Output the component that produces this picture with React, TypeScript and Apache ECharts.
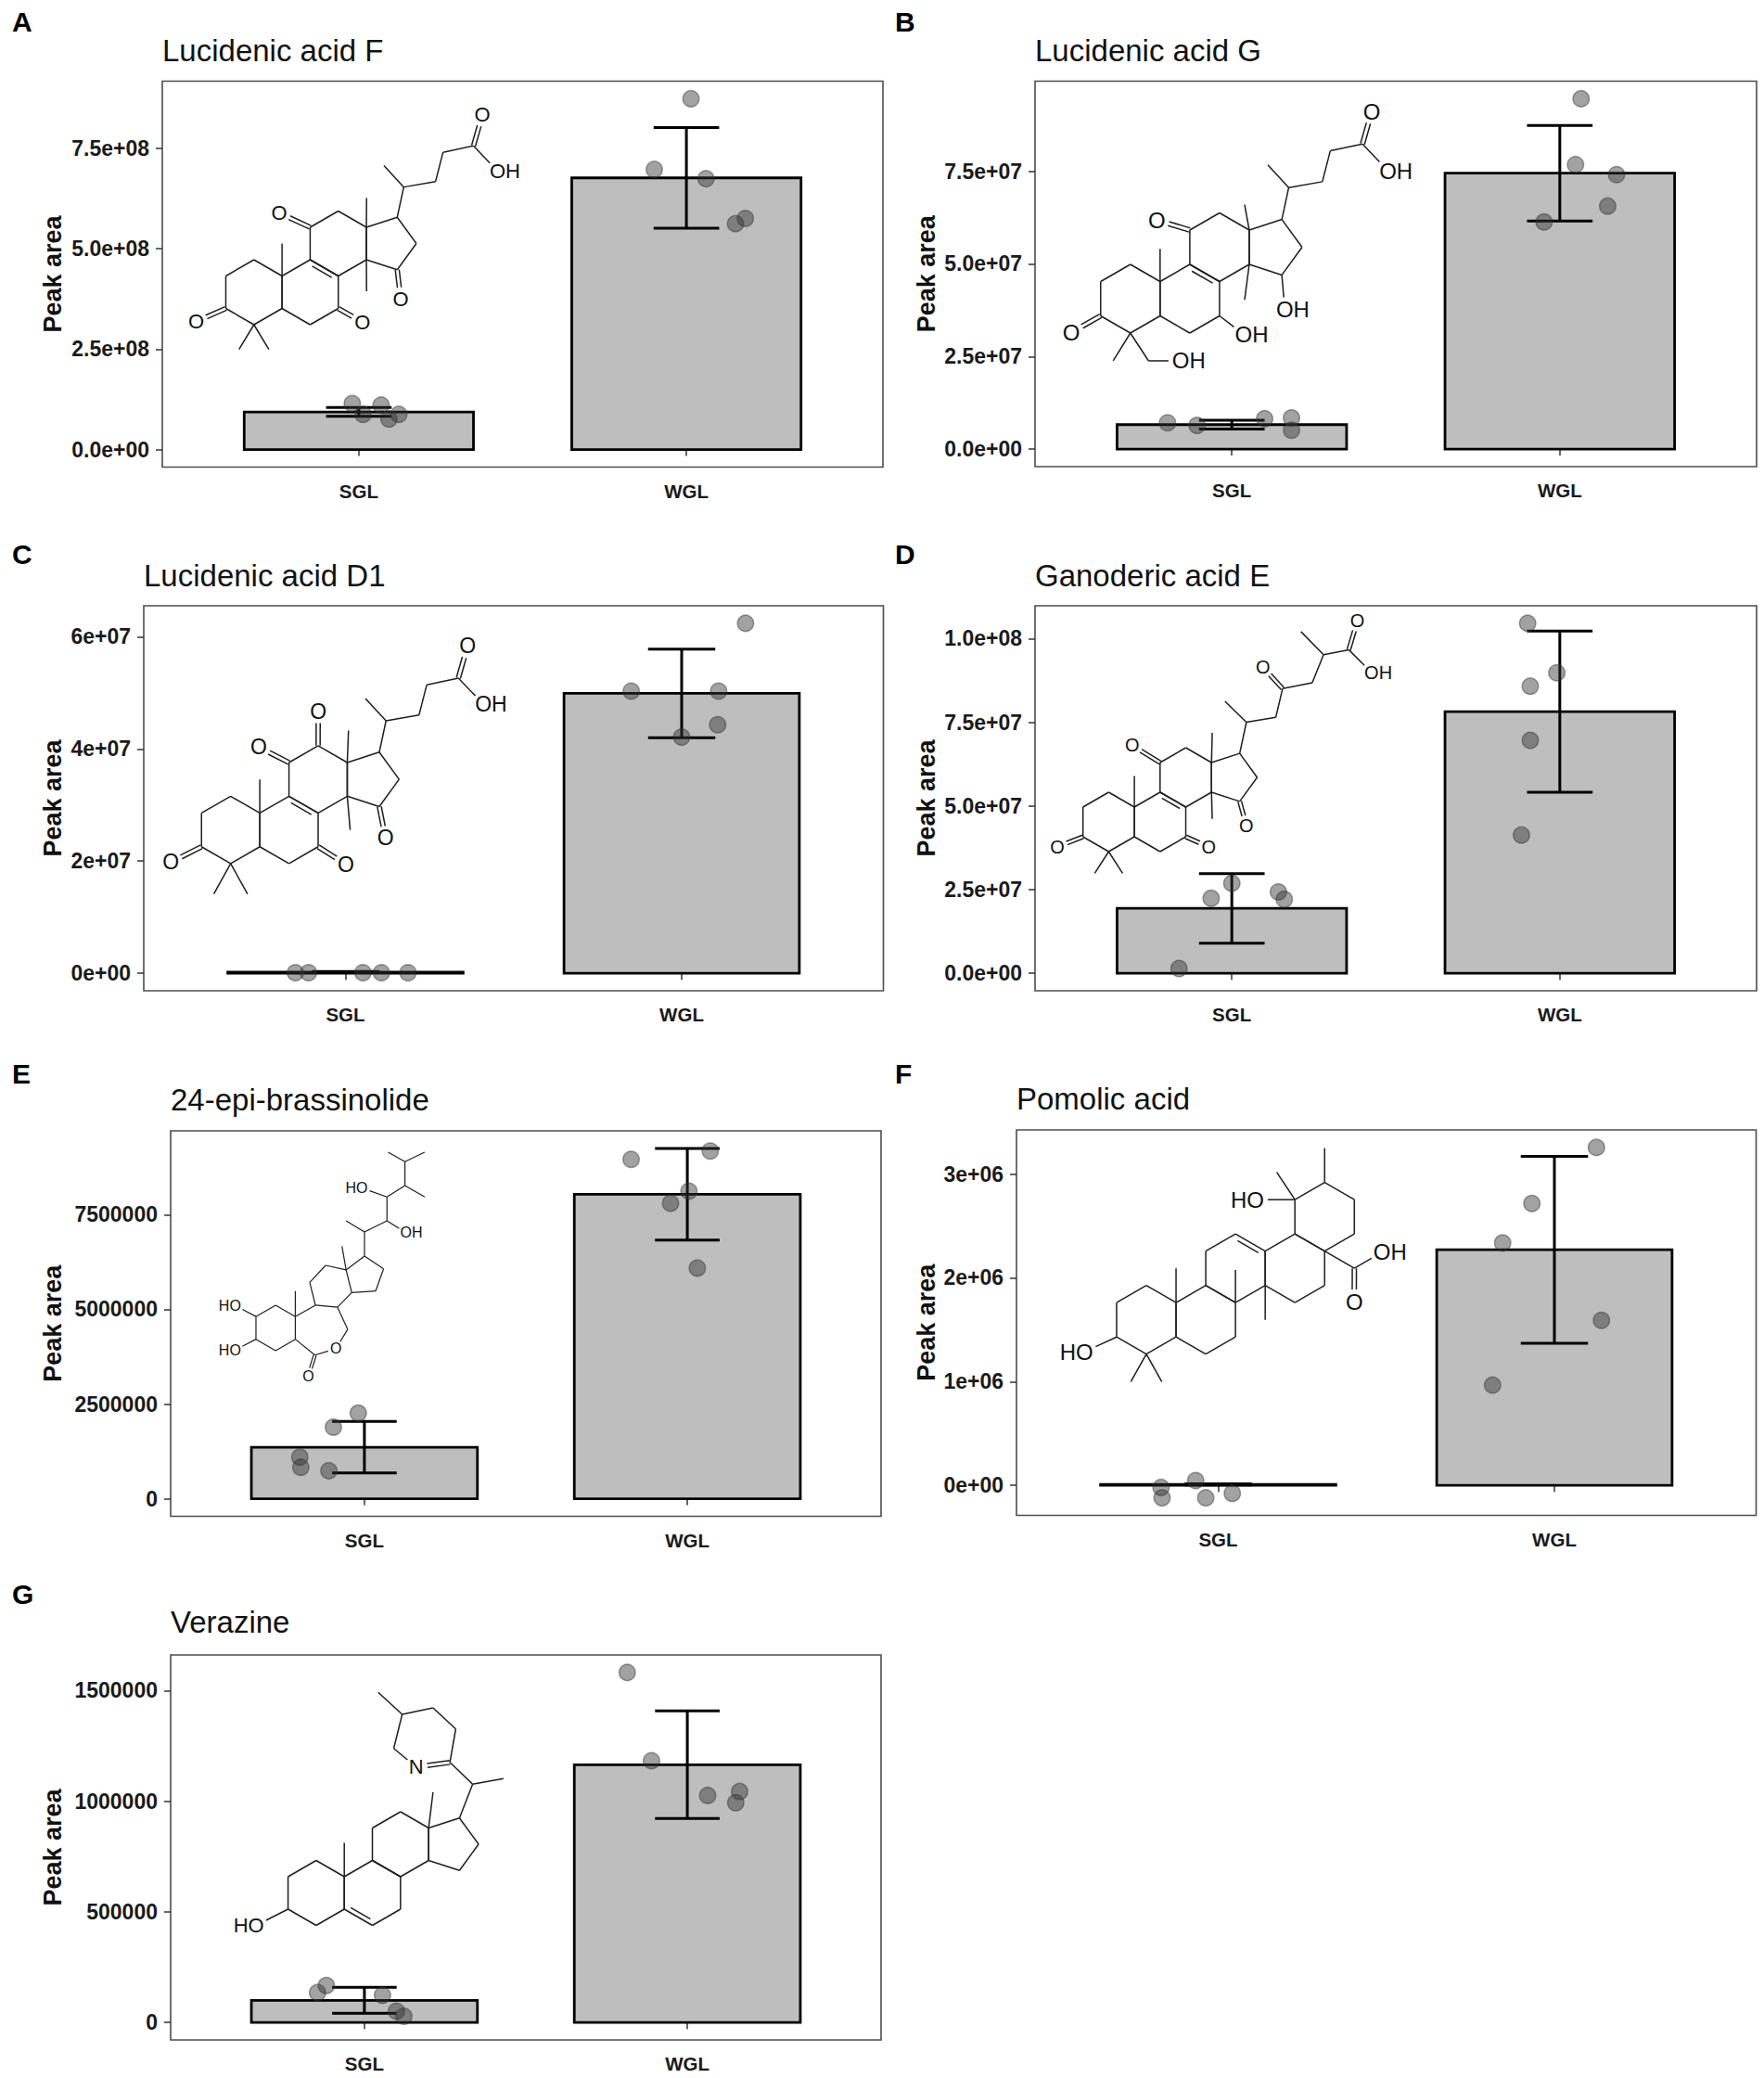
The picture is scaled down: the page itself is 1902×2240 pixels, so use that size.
import React, { useEffect, useRef } from "react";
import * as echarts from "echarts";

const FONT = "'Liberation Sans', Arial, Helvetica, sans-serif";
const W = 1902;
const H = 2240;

// ---------------- data ----------------
const groups = ["SGL", "WGL"];
const compounds = [
  "Lucidenic acid F",
  "Lucidenic acid G",
  "Lucidenic acid D1",
  "Ganoderic acid E",
  "24-epi-brassinolide",
  "Pomolic acid",
  "Verazine",
];
const panelLetters = ["A", "B", "C", "D", "E", "F", "G"];

const tickValues = [
  [0, 2.5e8, 5e8, 7.5e8],
  [0, 2.5e7, 5e7, 7.5e7],
  [0, 2e7, 4e7, 6e7],
  [0, 2.5e7, 5e7, 7.5e7, 1e8],
  [0, 2.5e6, 5e6, 7.5e6],
  [0, 1e6, 2e6, 3e6],
  [0, 5e5, 1e6, 1.5e6],
];
const tickLabels = [
  ["0.0e+00", "2.5e+08", "5.0e+08", "7.5e+08"],
  ["0.0e+00", "2.5e+07", "5.0e+07", "7.5e+07"],
  ["0e+00", "2e+07", "4e+07", "6e+07"],
  ["0.0e+00", "2.5e+07", "5.0e+07", "7.5e+07", "1.0e+08"],
  ["0", "2500000", "5000000", "7500000"],
  ["0e+00", "1e+06", "2e+06", "3e+06"],
  ["0", "500000", "1000000", "1500000"],
];

const meanSGL = [0.935e8, 0.66e7, 0.02e7, 1.94e7, 1.36e6, 0.01e6, 0.1e6];
const sdSGL = [0.11e8, 0.12e7, 0.01e7, 1.04e7, 0.68e6, 0.005e6, 0.059e6];
const meanWGL = [6.76e8, 7.45e7, 4.99e7, 7.82e7, 8.04e6, 2.27e6, 1.165e6];
const sdWGL = [1.25e8, 1.29e7, 0.79e7, 2.41e7, 1.21e6, 0.9e6, 0.243e6];

const ptsSGL = [
  [1.145e8, 0.875e8, 1.105e8, 0.76e8, 0.875e8],
  [0.71e7, 0.64e7, 0.82e7, 0.84e7, 0.51e7],
  [0.01e7, 0.01e7, 0.01e7, 0.01e7, 0.01e7],
  [0.14e7, 2.24e7, 2.69e7, 2.43e7, 2.21e7],
  [2.26e6, 1.89e6, 1.1e6, 0.83e6, 0.74e6],
  [0.046e6, -0.02e6, -0.12e6, -0.12e6, -0.077e6],
  [0.167e6, 0.135e6, 0.123e6, 0.051e6, 0.028e6],
];
const jitSGL = [
  [-0.02, 0.013, 0.068, 0.092, 0.122],
  [-0.196, -0.106, 0.1, 0.182, 0.182],
  [-0.149, -0.11, 0.052, 0.107, 0.186],
  [-0.161, -0.063, 0, 0.142, 0.16],
  [-0.019, -0.096, -0.2, -0.197, -0.11],
  [-0.067, -0.17, -0.167, -0.037, 0.042],
  [-0.118, -0.145, 0.056, 0.099, 0.122],
];
const ptsWGL = [
  [8.73e8, 6.97e8, 6.74e8, 5.62e8, 5.75e8],
  [9.46e7, 7.68e7, 7.41e7, 6.56e7, 6.13e7],
  [6.24e7, 5.03e7, 5.03e7, 4.43e7, 4.21e7],
  [10.46e7, 8.98e7, 8.58e7, 6.96e7, 4.13e7],
  [9.18e6, 8.96e6, 8.12e6, 7.8e6, 6.09e6],
  [3.256e6, 2.716e6, 2.336e6, 1.59e6, 0.966e6],
  [1.582e6, 1.183e6, 1.026e6, 1.044e6, 0.993e6],
];
const jitWGL = [
  [0.014, -0.098, 0.06, 0.15, 0.18],
  [0.065, 0.048, 0.173, 0.146, -0.048],
  [0.19, -0.15, 0.11, 0.107, 0],
  [-0.098, -0.009, -0.09, -0.09, -0.117],
  [0.071, -0.174, 0.005, -0.052, 0.031],
  [0.125, -0.067, -0.154, 0.14, -0.184],
  [-0.186, -0.111, 0.063, 0.162, 0.15],
];

// ---------------- layout ----------------
const boxes = [
  [175, 87.5, 952, 503.5],
  [1116, 87.5, 1894, 503],
  [155, 653, 952.5, 1068],
  [1116, 653, 1894, 1068],
  [184, 1219, 950, 1634.5],
  [1096, 1218, 1893.5, 1633.5],
  [184, 1784, 950, 2199],
];
const letterPos = [
  [13, 23.5],
  [965, 23.5],
  [13, 597.5],
  [965, 597.5],
  [13, 1157],
  [965, 1157],
  [13, 1718],
];
const titleY = [54.5, 54.5, 620.5, 620.5, 1185.5, 1184.5, 1748.5];
const yTitleX = [57, 999, 57, 999, 57, 999, 57];
const molPlace = [
  [273.8, 315, 35],
  [1218.8, 322, 37],
  [248.7, 894.6, 36.3],
  [1195.4, 886, 32],
  [297.2, 1431.4, 24.5],
  [1236, 1422.7, 37],
  [340.9, 2040.5, 35],
];

const BAR_HALF = 0.35;
const CAP_HALF = 0.1;

// ---------------- structure drawings ----------------
type P = [number, number];
type Lab = { at: P; text: string; from: P[]; dbl?: boolean; align?: "c" | "l" | "r" };
type Mol = { bonds: [P, P][]; inner: [P, P, P][]; labels: Lab[] };

const S = Math.sqrt(3) / 2;
const add = (p: P, d: P): P => [p[0] + d[0], p[1] + d[1]];
const hexV = (cx: number, cy: number): P[] => [
  [cx, cy - 1],
  [cx + S, cy - 0.5],
  [cx + S, cy + 0.5],
  [cx, cy + 1],
  [cx - S, cy + 0.5],
  [cx - S, cy - 0.5],
];
const pentV = (ex: number, my: number): P[] => [
  [ex, my - 0.5],
  [ex + 0.951, my - 0.809],
  [ex + 1.539, my],
  [ex + 0.951, my + 0.809],
  [ex, my + 0.5],
];
const ring = (v: P[]): [P, P][] => v.map((p, i) => [p, v[(i + 1) % v.length]] as [P, P]);

function lanoCore() {
  const a: Record<string, P> = {
    c1: [0, -1], c2: [-S, -0.5], c3: [-S, 0.5], c4: [0, 1], c5: [S, 0.5], c10: [S, -0.5],
    c9: [2 * S, -1], c8: [3 * S, -0.5], c7: [3 * S, 0.5], c6: [2 * S, 1],
    c11: [2 * S, -2], c12: [3 * S, -2.5], c13: [4 * S, -2], c14: [4 * S, -1],
    c17: [4 * S + 0.951, -2.309], c16: [4 * S + 1.539, -1.5], c15: [4 * S + 0.951, -0.691],
  };
  const bonds: [P, P][] = [
    ...ring(hexV(0, 0)),
    ...ring(hexV(2 * S, 0)),
    ...ring(hexV(3 * S, -1.5)),
    ...ring(pentV(4 * S, -1.5)),
  ];
  return { a, bonds };
}

function acidChain(c17: P) {
  const c20 = add(c17, [0.2, -0.93]);
  const c21 = add(c20, [-0.61, -0.66]);
  const c22 = add(c20, [0.98, -0.17]);
  const c23 = add(c22, [0.23, -0.9]);
  const c24 = add(c23, [0.94, -0.2]);
  return {
    bonds: [[c17, c20], [c20, c21], [c20, c22], [c22, c23], [c23, c24]] as [P, P][],
    labels: [
      { at: add(c24, [0.27, -0.95]), text: "O", from: [c24], dbl: true },
      { at: add(c24, [0.74, 0.78]), text: "OH", from: [c24], align: "l" },
    ] as Lab[],
  };
}

function molA(): Mol {
  const { a, bonds } = lanoCore();
  bonds.push([a.c10, [S, -1.5]], [a.c13, [3.47, -2.9]], [a.c14, [3.47, -0.03]], [a.c4, [-0.46, 1.76]], [a.c4, [0.46, 1.76]]);
  const ch = acidChain(a.c17);
  return {
    bonds: [...bonds, ...ch.bonds],
    inner: [[a.c9, a.c8, [2 * S, 0]]],
    labels: [
      { at: [-1.78, 0.9], text: "O", from: [a.c3], dbl: true },
      { at: [3.34, 0.92], text: "O", from: [a.c7], dbl: true },
      { at: [0.78, -2.44], text: "O", from: [a.c11], dbl: true },
      { at: [4.52, 0.2], text: "O", from: [a.c15], dbl: true },
      ...ch.labels,
    ],
  };
}

function molB(): Mol {
  const { a, bonds } = lanoCore();
  const ch2: P = [0.53, 1.81];
  bonds.push([a.c10, [S, -1.45]], [a.c13, [3.33, -2.74]], [a.c14, [3.33, 0.03]], [a.c4, [-0.5, 1.81]], [a.c4, ch2]);
  const ch = acidChain(a.c17);
  return {
    bonds: [...bonds, ...ch.bonds],
    inner: [[a.c9, a.c8, [2 * S, 0]]],
    labels: [
      { at: [-1.72, 0.98], text: "O", from: [a.c3], dbl: true },
      { at: [0.77, -2.29], text: "O", from: [a.c11], dbl: true },
      { at: [1.47, 1.81], text: "OH", from: [ch2], align: "l" },
      { at: [3.3, 1.04], text: "OH", from: [a.c7], align: "l" },
      { at: [4.5, 0.32], text: "OH", from: [a.c15], align: "l" },
      ...ch.labels,
    ],
  };
}

function molC(): Mol {
  const { a, bonds } = lanoCore();
  bonds.push([a.c10, [S, -1.5]], [a.c13, [3.5, -2.95]], [a.c14, [3.55, 0]], [a.c4, [-0.5, 1.9]], [a.c4, [0.5, 1.9]]);
  const ch = acidChain(a.c17);
  return {
    bonds: [...bonds, ...ch.bonds],
    inner: [[a.c9, a.c8, [2 * S, 0]]],
    labels: [
      { at: [-1.78, 0.96], text: "O", from: [a.c3], dbl: true },
      { at: [3.42, 1.02], text: "O", from: [a.c7], dbl: true },
      { at: [0.83, -2.46], text: "O", from: [a.c11], dbl: true },
      { at: [2.6, -3.52], text: "O", from: [a.c12], dbl: true },
      { at: [4.6, 0.24], text: "O", from: [a.c15], dbl: true },
      ...ch.labels,
    ],
  };
}

function molD(): Mol {
  const { a, bonds } = lanoCore();
  const c20: P = [4.64, -3.36];
  const c21: P = [3.92, -4.06];
  const c22: P = [5.63, -3.52];
  const c23: P = [5.86, -4.49];
  const c24: P = [6.86, -4.69];
  const c25: P = [7.24, -5.63];
  const c27: P = [6.48, -6.41];
  const c26: P = [8.09, -5.8];
  bonds.push(
    [a.c10, [S, -1.55]], [a.c13, [3.49, -3.0]], [a.c14, [3.49, -0.1]], [a.c4, [-0.47, 1.73]], [a.c4, [0.47, 1.73]],
    [a.c17, c20], [c20, c21], [c20, c22], [c22, c23], [c23, c24], [c24, c25], [c25, c27], [c25, c26],
  );
  return {
    bonds,
    inner: [[a.c9, a.c8, [2 * S, 0]]],
    labels: [
      { at: [-1.73, 0.84], text: "O", from: [a.c3], dbl: true },
      { at: [3.37, 0.84], text: "O", from: [a.c7], dbl: true },
      { at: [0.79, -2.58], text: "O", from: [a.c11], dbl: true },
      { at: [4.64, 0.13], text: "O", from: [a.c15], dbl: true },
      { at: [5.2, -5.21], text: "O", from: [c23], dbl: true },
      { at: [8.38, -6.77], text: "O", from: [c26], dbl: true },
      { at: [8.86, -5.03], text: "OH", from: [c26], align: "l" },
    ],
  };
}

function molE(): Mol {
  const c1: P = [0, -1], c2: P = [-S, -0.5], c3: P = [-S, 0.5], c4: P = [0, 1], c5: P = [S, 0.5], c10: P = [S, -0.5];
  const c6: P = [1.73, 1.2], oR: P = [2.65, 0.91], c7: P = [3.17, 0.07], c8: P = [2.72, -0.91], c9: P = [1.75, -1.0];
  const c11: P = [1.5, -2.0], c12: P = [2.2, -2.75], c13: P = [3.1, -2.55], c14: P = [3.35, -1.55];
  const c17: P = [3.91, -3.16], c16: P = [4.75, -2.6], c15: P = [4.4, -1.62];
  const c20: P = [3.91, -4.22], c21: P = [3.1, -4.71], c22: P = [4.9, -4.71], c23: P = [4.9, -5.76];
  const c24: P = [5.69, -6.26], c28: P = [6.56, -5.76], c25: P = [5.69, -7.31], c26: P = [4.95, -7.73], c27: P = [6.56, -7.73];
  return {
    bonds: [
      ...ring([c1, c10, c5, c4, c3, c2]),
      [c5, c6], [c7, c8], [c8, c9], [c9, c10],
      [c9, c11], [c11, c12], [c12, c13], [c13, c14], [c14, c8],
      [c13, c17], [c17, c16], [c16, c15], [c15, c14],
      [c13, [2.92, -3.59]], [c10, [S, -1.62]],
      [c17, c20], [c20, c21], [c20, c22], [c22, c23], [c23, c24], [c24, c28], [c24, c25], [c25, c26], [c25, c27],
    ],
    inner: [],
    labels: [
      { at: [-1.78, -0.98], text: "HO", from: [c2], align: "r" },
      { at: [-1.78, 0.98], text: "HO", from: [c3], align: "r" },
      { at: oR, text: "O", from: [c6, c7] },
      { at: [1.44, 2.12], text: "O", from: [c6], dbl: true },
      { at: [5.74, -4.18], text: "OH", from: [c22], align: "l" },
      { at: [3.8, -6.15], text: "HO", from: [c23], align: "r" },
    ],
  };
}

function molF(): Mol {
  const c3: P = [-S, 0.5], c4: P = [0, 1], c10: P = [S, -0.5], c8: P = [3 * S, -0.5], c14: P = [4 * S, -1];
  const c12: P = [3 * S, -2.5], c13: P = [4 * S, -2], c17: P = [6 * S, -2], c19: P = [5 * S, -3.5], c20: P = [6 * S, -4];
  const cc: P = [7 * S, -1.5];
  return {
    bonds: [
      ...ring(hexV(0, 0)),
      ...ring(hexV(2 * S, 0)),
      ...ring(hexV(3 * S, -1.5)),
      ...ring(hexV(5 * S, -1.5)),
      ...ring(hexV(6 * S, -3)),
      [c10, [S, -1.5]], [c8, [3 * S, -1.45]], [c14, [4 * S, 0]],
      [c4, [-0.45, 1.8]], [c4, [0.45, 1.8]],
      [c19, [3.8, -4.3]], [c20, [6 * S, -5]],
      [c17, cc],
    ],
    inner: [[c12, c13, [3 * S, -1.5]]],
    labels: [
      { at: [-1.8, 0.93], text: "HO", from: [c3], align: "r" },
      { at: [3.18, -3.5], text: "HO", from: [c19], align: "r" },
      { at: [6.06, -0.53], text: "O", from: [cc], dbl: true },
      { at: [6.87, -1.97], text: "OH", from: [cc], align: "l" },
    ],
  };
}

function molG(): Mol {
  const c3: P = [-S, 0.5], c5: P = [S, 0.5], c6: P = [2 * S, 1], c10: P = [S, -0.5], c13: P = [4 * S, -2];
  const c17: P = [4 * S + 0.951, -2.309];
  const c20: P = [4.82, -3.35], c21: P = [5.77, -3.52], c22: P = [4.12, -4.02], c23: P = [4.3, -5.05];
  const c24: P = [3.6, -5.7], c25: P = [2.65, -5.5], c26: P = [2.39, -4.45], c27: P = [1.91, -6.18];
  const n: P = [3.08, -3.88];
  return {
    bonds: [
      ...ring(hexV(0, 0)),
      ...ring(hexV(2 * S, 0)),
      ...ring(hexV(3 * S, -1.5)),
      ...ring(pentV(4 * S, -1.5)),
      [c10, [S, -1.54]], [c13, [3.6, -3.1]],
      [c17, c20], [c20, c21], [c20, c22], [c22, c23], [c23, c24], [c24, c25], [c25, c26], [c25, c27],
    ],
    inner: [[c5, c6, [2 * S, 0]]],
    labels: [
      { at: [-1.85, 1.0], text: "HO", from: [c3], align: "r" },
      { at: n, text: "N", from: [c26] },
      { at: n, text: "", from: [c22], dbl: true },
    ],
  };
}

const mols = [molA(), molB(), molC(), molD(), molE(), molF(), molG()];

function molElements(m: Mol, ox: number, oy: number, b: number) {
  const els: any[] = [];
  const fs = b < 30 ? 16 : b < 34 ? 20 : Math.round(0.64 * b);
  const lw = b < 30 ? 1.2 : 1.5;
  const X = (p: P) => ox + p[0] * b;
  const Y = (p: P) => oy + p[1] * b;
  const line = (x1: number, y1: number, x2: number, y2: number) =>
    els.push({ type: "line", silent: true, z: 1, shape: { x1, y1, x2, y2 }, style: { stroke: "#1e1e1e", lineWidth: lw } });
  for (const [p, q] of m.bonds) line(X(p), Y(p), X(q), Y(q));
  for (const [p, q, c] of m.inner) {
    const ax = X(p), ay = Y(p), bx = X(q), by = Y(q);
    const dx = bx - ax, dy = by - ay;
    const len = Math.hypot(dx, dy);
    let nx = -dy / len, ny = dx / len;
    const mx = (ax + bx) / 2, my = (ay + by) / 2;
    if ((X(c) - mx) * nx + (Y(c) - my) * ny < 0) { nx = -nx; ny = -ny; }
    const off = 0.14 * b, sh = 0.15;
    line(ax + dx * sh + nx * off, ay + dy * sh + ny * off, bx - dx * sh + nx * off, by - dy * sh + ny * off);
  }
  for (const L of m.labels) {
    const lx = X(L.at), ly = Y(L.at);
    const trim = 0.55 * fs;
    for (const f of L.from) {
      const fx = X(f), fy = Y(f);
      const dx = lx - fx, dy = ly - fy;
      const len = Math.hypot(dx, dy);
      const ex = lx - (dx / len) * trim, ey = ly - (dy / len) * trim;
      if (L.dbl) {
        const o = 0.06 * b;
        const nx = (-dy / len) * o, ny = (dx / len) * o;
        line(fx + nx, fy + ny, ex + nx, ey + ny);
        line(fx - nx, fy - ny, ex - nx, ey - ny);
      } else line(fx, fy, ex, ey);
    }
    if (!L.text) continue;
    const al = L.align || "c";
    const tx = al === "l" ? lx - 0.39 * fs : al === "r" ? lx + 0.39 * fs : lx;
    const align = al === "l" ? "left" : al === "r" ? "right" : "center";
    els.push({
      type: "text",
      silent: true,
      z: 1,
      x: tx,
      y: ly,
      style: {
        text: L.text, fontSize: fs, fontFamily: FONT, fill: "#111",
        align, textAlign: align, verticalAlign: "middle", textVerticalAlign: "middle",
      },
    });
  }
  return els;
}

// ---------------- option ----------------
function yRange(i: number) {
  const vals = [
    0,
    ...ptsSGL[i], ...ptsWGL[i],
    meanSGL[i] + sdSGL[i], meanSGL[i] - sdSGL[i],
    meanWGL[i] + sdWGL[i], meanWGL[i] - sdWGL[i],
  ];
  const lo = Math.min(...vals), hi = Math.max(...vals);
  const pad = 0.05 * (hi - lo);
  return [lo - pad, hi + pad];
}

function buildOption() {
  const grid: any[] = [], xAxis: any[] = [], yAxis: any[] = [], series: any[] = [], graphics: any[] = [];
  for (let i = 0; i < 7; i++) {
    const [l, t, r, bt] = boxes[i];
    grid.push({
      left: l, top: t, width: r - l, height: bt - t,
      show: true, borderColor: "#4d4d4d", borderWidth: 1.6, backgroundColor: "transparent",
      containLabel: false, outerBoundsMode: "none",
    });
    xAxis.push({
      type: "value", gridIndex: i, min: 0.4, max: 2.6,
      splitLine: { show: false },
      axisLine: { show: false },
      axisTick: { show: true, customValues: [1, 2], length: 7, lineStyle: { color: "#333", width: 1.5 } },
      axisLabel: {
        show: true, customValues: [1, 2], margin: 15,
        formatter: (v: number) => groups[Math.round(v) - 1] || "",
        fontFamily: FONT, fontWeight: "bold", fontSize: 20.5, color: "#1a1a1a",
      },
    });
    const [ymin, ymax] = yRange(i);
    const tv = tickValues[i], tl = tickLabels[i];
    yAxis.push({
      type: "value", gridIndex: i, min: ymin, max: ymax,
      splitLine: { show: false },
      axisLine: { show: false },
      axisTick: { show: true, customValues: tv, length: 7, lineStyle: { color: "#333", width: 1.5 } },
      axisLabel: {
        show: true, customValues: tv, margin: 14,
        formatter: (v: number) => {
          let k = 0;
          for (let j = 0; j < tv.length; j++) if (Math.abs(tv[j] - v) < Math.abs(tv[k] - v)) k = j;
          return tl[k];
        },
        fontFamily: FONT, fontWeight: "bold", fontSize: 23, color: "#1a1a1a",
      },
    });
    series.push({
      type: "custom", xAxisIndex: i, yAxisIndex: i, z: 2, silent: true,
      data: [[1, meanSGL[i]], [2, meanWGL[i]]],
      renderItem: (_p: any, api: any) => {
        const x = api.value(0), y = api.value(1);
        const p0 = api.coord([x - BAR_HALF, 0]);
        const p1 = api.coord([x + BAR_HALF, y]);
        return {
          type: "rect",
          shape: { x: p0[0], y: Math.min(p0[1], p1[1]), width: p1[0] - p0[0], height: Math.abs(p0[1] - p1[1]) },
          style: { fill: "#bebebe", stroke: "#000", lineWidth: 2.8 },
        };
      },
    });
    series.push({
      type: "custom", xAxisIndex: i, yAxisIndex: i, z: 3, silent: true,
      data: [
        [1, meanSGL[i] - sdSGL[i], meanSGL[i] + sdSGL[i]],
        [2, meanWGL[i] - sdWGL[i], meanWGL[i] + sdWGL[i]],
      ],
      renderItem: (_p: any, api: any) => {
        const x = api.value(0), lo = api.value(1), hi = api.value(2);
        const top = api.coord([x, hi]), bot = api.coord([x, lo]);
        const cl = api.coord([x - CAP_HALF, hi])[0], cr = api.coord([x + CAP_HALF, hi])[0];
        const st = { stroke: "#000", lineWidth: 3 };
        return {
          type: "group",
          children: [
            { type: "line", shape: { x1: top[0], y1: top[1], x2: bot[0], y2: bot[1] }, style: st },
            { type: "line", shape: { x1: cl, y1: top[1], x2: cr, y2: top[1] }, style: st },
            { type: "line", shape: { x1: cl, y1: bot[1], x2: cr, y2: bot[1] }, style: st },
          ],
        };
      },
    });
    const pts: number[][] = [];
    ptsSGL[i].forEach((v, k) => pts.push([1 + jitSGL[i][k], v]));
    ptsWGL[i].forEach((v, k) => pts.push([2 + jitWGL[i][k], v]));
    series.push({
      type: "scatter", xAxisIndex: i, yAxisIndex: i, z: 4, silent: true,
      symbol: "circle", symbolSize: 17.5,
      itemStyle: { color: "rgba(51,51,51,0.57)", borderColor: "rgba(51,51,51,0.57)", borderWidth: 1.5 },
      data: pts,
    });

    // texts
    graphics.push({
      type: "text", silent: true, x: letterPos[i][0], y: letterPos[i][1],
      style: { text: panelLetters[i], fontSize: 30, fontWeight: "bold", fontFamily: FONT, fill: "#000", align: "left", textAlign: "left", verticalAlign: "middle", textVerticalAlign: "middle" },
    });
    graphics.push({
      type: "text", silent: true, x: l, y: titleY[i],
      style: { text: compounds[i], fontSize: 33, fontFamily: FONT, fill: "#111", align: "left", textAlign: "left", verticalAlign: "middle", textVerticalAlign: "middle" },
    });
    graphics.push({
      type: "text", silent: true, x: yTitleX[i], y: (t + bt) / 2, rotation: Math.PI / 2,
      style: { text: "Peak area", fontSize: 27, fontWeight: "bold", fontFamily: FONT, fill: "#111", align: "center", textAlign: "center", verticalAlign: "middle", textVerticalAlign: "middle" },
    });
    const [ox, oy, b] = molPlace[i];
    graphics.push(...molElements(mols[i], ox, oy, b));
  }
  return {
    animation: false,
    backgroundColor: "#ffffff",
    grid, xAxis, yAxis, series,
    graphic: { elements: graphics },
  };
}

export default function App() {
  const ref = useRef<HTMLDivElement>(null);
  useEffect(() => {
    document.body.style.margin = "0";
    if (!ref.current) return;
    const chart = echarts.init(ref.current, null, { renderer: "svg", width: W, height: H });
    chart.setOption(buildOption() as any);
    return () => chart.dispose();
  }, []);
  return <div ref={ref} style={{ width: W, height: H, position: "absolute", left: 0, top: 0, background: "#fff" }} />;
}
